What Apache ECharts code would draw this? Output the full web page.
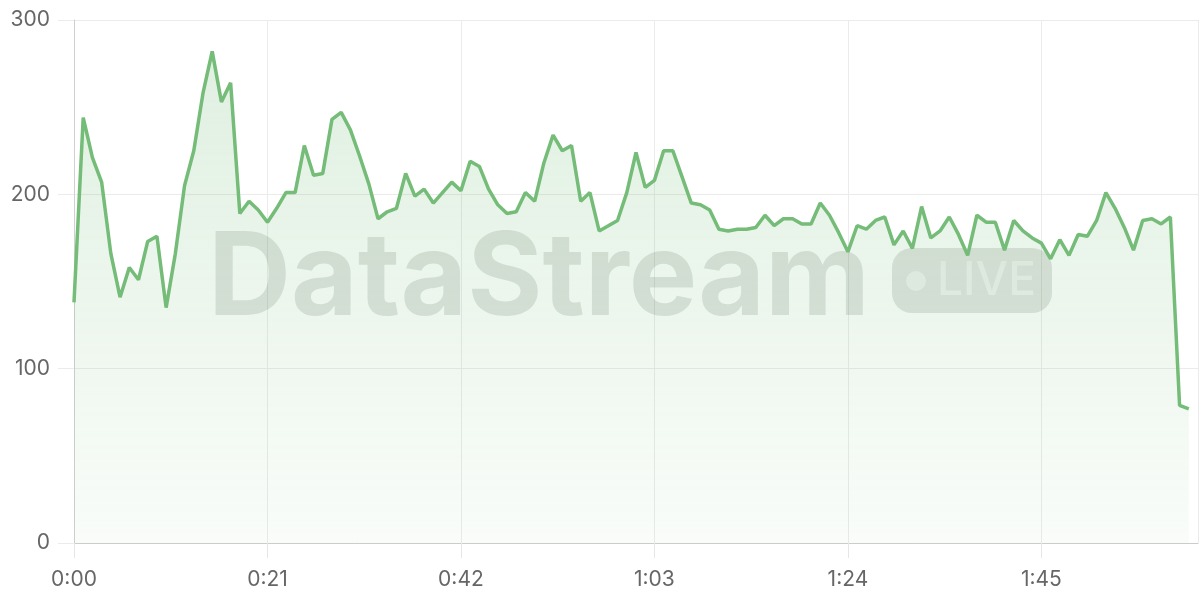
<!DOCTYPE html>
<html>
<head>
<meta charset="utf-8">
<script src="https://cdn.jsdelivr.net/npm/echarts@6/dist/echarts.min.js"></script>
<style>
html,body{margin:0;padding:0;background:#fff;}
#chart{width:1200px;height:600px;}
</style>
</head>
<body>
<div id="chart"></div>
<script>
// values sampled once per second, starting at 0:00
const values = [
  138, 244, 221, 207, 166, 141, 158, 151, 173, 176,
  135, 166, 205, 225, 258, 282, 253, 264, 189, 196,
  191, 184, 192, 201, 201, 228, 211, 212, 243, 247,
  237, 222, 206, 186, 190, 192, 212, 199, 203, 195,
  201, 207, 202, 219, 216, 203, 194, 189, 190, 201,
  196, 218, 234, 225, 228, 196, 201, 179, 182, 185,
  201, 224, 204, 208, 225, 225, 210, 195, 194, 191,
  180, 179, 180, 180, 181, 188, 182, 186, 186, 183,
  183, 195, 188, 178, 167, 182, 180, 185, 187, 171,
  179, 169, 193, 175, 179, 187, 177, 165, 188, 184,
  184, 168, 185, 179, 175, 172, 163, 174, 165, 177,
  176, 185, 201, 192, 181, 168, 185, 186, 183, 187,
  79, 77
];
const yTicks = [0, 100, 200, 300];
const xTickLabels = ['0:00', '0:21', '0:42', '1:03', '1:24', '1:45'];
const watermarkTitle = 'DataStream';
const watermarkBadge = 'LIVE';

const seriesData = values.map((v, i) => [i, v]);

function fmt(sec) {
  const m = Math.floor(sec / 60);
  const s = Math.round(sec % 60);
  return m + ':' + (s < 10 ? '0' : '') + s;
}

const chart = echarts.init(document.getElementById('chart'), null, {renderer: 'canvas'});
const labelFont = 'Inter, "Noto Sans", sans-serif';

chart.setOption({
  animation: false,
  grid: {left: 74, right: 2, top: 20, bottom: 57, containLabel: false},
  xAxis: {
    type: 'value',
    min: 0,
    max: 122,
    interval: 21,
    axisLine: {show: true, lineStyle: {color: '#cccccc', width: 1}},
    axisTick: {show: true, length: 15, lineStyle: {color: '#e6e6e6'}},
    splitLine: {show: true, lineStyle: {color: '#ebebeb', width: 1}},
    axisLabel: {
      color: '#666666', fontSize: 21, fontFamily: labelFont, margin: 26,
      formatter: function (v) { return fmt(v); },
      showMaxLabel: false
    }
  },
  yAxis: {
    type: 'value',
    min: yTicks[0],
    max: yTicks[yTicks.length - 1],
    interval: 100,
    axisLine: {show: true, lineStyle: {color: '#d0d0d0', width: 1}},
    axisTick: {show: true, length: 16, lineStyle: {color: '#ebebeb'}},
    splitLine: {show: true, lineStyle: {color: '#ebebeb', width: 1}},
    axisLabel: {color: '#666666', fontSize: 21, fontFamily: labelFont, margin: 24}
  },
  graphic: [
    {
      type: 'text',
      z: 1,
      x: 208,
      y: 280,
      style: {
        text: watermarkTitle,
        font: 'bold 115px Inter',
        fill: 'rgba(40,60,40,0.14)',
        align: 'left',
        verticalAlign: 'middle'
      }
    },
    {
      type: 'rect',
      z: 1,
      shape: {x: 892, y: 248, width: 160, height: 65, r: 20},
      style: {fill: 'rgba(40,60,40,0.14)'}
    },
    {
      type: 'circle',
      z: 1,
      shape: {cx: 916, cy: 281, r: 10},
      style: {fill: 'rgba(255,255,255,0.45)'}
    },
    {
      type: 'text',
      z: 1,
      x: 937,
      y: 281,
      style: {
        text: watermarkBadge,
        font: '500 46px Inter',
        fill: 'rgba(255,255,255,0.45)',
        align: 'left',
        verticalAlign: 'middle'
      }
    }
  ],
  series: [{
    type: 'line',
    data: seriesData,
    showSymbol: false,
    symbol: 'none',
    z: 3,
    lineStyle: {color: '#74bc78', width: 3.5},
    itemStyle: {color: '#74bc78'},
    areaStyle: {
      color: new echarts.graphic.LinearGradient(0, 0, 0, 1, [
        {offset: 0, color: 'rgba(116,188,120,0.32)'},
        {offset: 1, color: 'rgba(116,188,120,0.06)'}
      ])
    }
  }]
});
</script>
</body>
</html>
